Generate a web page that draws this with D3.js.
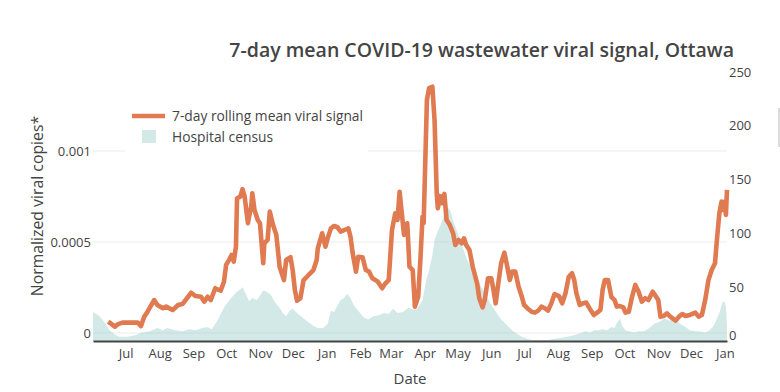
<!DOCTYPE html>
<html><head><meta charset="utf-8">
<script src="https://cdn.jsdelivr.net/npm/d3@7"></script>
<style>body{margin:0;background:#fff;overflow:hidden} svg{display:block;font-family:"Open Sans",sans-serif}</style>
</head><body><svg id="c" width="780" height="392"></svg>
<script>
const titleText = "7-day mean COVID-19 wastewater viral signal, Ottawa";
const seriesNames = ["7-day rolling mean viral signal", "Hospital census"];

const viralDates = ["2021-06-15","2021-06-21","2021-06-24","2021-06-28","2021-07-12","2021-07-15","2021-07-18","2021-07-21","2021-07-27","2021-07-30",
"2021-08-04","2021-08-07","2021-08-13","2021-08-18","2021-08-22","2021-08-30","2021-09-03","2021-09-08","2021-09-11","2021-09-14",
"2021-09-17","2021-09-21","2021-09-26","2021-09-29","2021-10-01","2021-10-04","2021-10-06","2021-10-08","2021-10-10","2021-10-11",
"2021-10-14","2021-10-16","2021-10-18","2021-10-21","2021-10-22","2021-10-24","2021-10-25","2021-10-27","2021-10-30","2021-11-01",
"2021-11-04","2021-11-05","2021-11-08","2021-11-10","2021-11-13","2021-11-16","2021-11-19","2021-11-22","2021-11-23","2021-11-25",
"2021-11-29","2021-12-01","2021-12-03","2021-12-05","2021-12-08","2021-12-11","2021-12-14","2021-12-17","2021-12-20","2021-12-23",
"2021-12-24","2021-12-28","2021-12-31","2022-01-02","2022-01-05","2022-01-08","2022-01-11","2022-01-14","2022-01-19","2022-01-21",
"2022-01-23","2022-01-25","2022-01-28","2022-01-30","2022-02-03","2022-02-06","2022-02-09","2022-02-12","2022-02-17","2022-02-21",
"2022-02-24","2022-02-27","2022-03-02","2022-03-05","2022-03-07","2022-03-09","2022-03-11","2022-03-13","2022-03-16","2022-03-18",
"2022-03-21","2022-03-23","2022-03-26","2022-03-28","2022-03-30","2022-03-31","2022-04-03","2022-04-05","2022-04-08","2022-04-10",
"2022-04-12","2022-04-13","2022-04-15","2022-04-17","2022-04-19","2022-04-21","2022-04-24","2022-04-27","2022-04-29","2022-05-02",
"2022-05-05","2022-05-07","2022-05-09","2022-05-12","2022-05-15","2022-05-19","2022-05-21","2022-05-24","2022-05-26","2022-05-29",
"2022-06-01","2022-06-03","2022-06-05","2022-06-07","2022-06-10","2022-06-13","2022-06-15","2022-06-18","2022-06-20","2022-06-23",
"2022-06-26","2022-06-29","2022-07-01","2022-07-04","2022-07-08","2022-07-11","2022-07-14","2022-07-17","2022-07-20","2022-07-23",
"2022-07-26","2022-07-29","2022-08-02","2022-08-05","2022-08-08","2022-08-11","2022-08-14","2022-08-16","2022-08-18","2022-08-21",
"2022-08-24","2022-08-27","2022-08-31","2022-09-03","2022-09-06","2022-09-09","2022-09-11","2022-09-13","2022-09-16","2022-09-19",
"2022-09-22","2022-09-24","2022-09-27","2022-09-30","2022-10-02","2022-10-05","2022-10-08","2022-10-11","2022-10-14","2022-10-17",
"2022-10-20","2022-10-23","2022-10-27","2022-10-29","2022-11-01","2022-11-03","2022-11-06","2022-11-09","2022-11-12","2022-11-17",
"2022-11-20","2022-11-23","2022-11-26","2022-11-30","2022-12-05","2022-12-08","2022-12-11","2022-12-14","2022-12-17","2022-12-20",
"2022-12-23","2022-12-25","2022-12-27","2022-12-29","2022-12-30","2023-01-01","2023-01-02","2023-01-03"];
const viralValues = [62e-6,35e-6,49e-6,57e-6,57e-6,38e-6,90e-6,117e-6,181e-6,154e-6,
136e-6,145e-6,126e-6,154e-6,159e-6,221e-6,203e-6,199e-6,172e-6,199e-6,
181e-6,246e-6,232e-6,282e-6,374e-6,405e-6,429e-6,392e-6,474e-6,740e-6,
749e-6,790e-6,749e-6,603e-6,639e-6,694e-6,768e-6,676e-6,621e-6,603e-6,
383e-6,493e-6,511e-6,667e-6,593e-6,539e-6,364e-6,309e-6,291e-6,401e-6,
416e-6,346e-6,236e-6,177e-6,191e-6,291e-6,309e-6,328e-6,346e-6,401e-6,
465e-6,548e-6,474e-6,520e-6,575e-6,588e-6,581e-6,557e-6,570e-6,575e-6,
529e-6,438e-6,337e-6,419e-6,416e-6,346e-6,337e-6,301e-6,282e-6,246e-6,
273e-6,291e-6,566e-6,658e-6,621e-6,776e-6,658e-6,539e-6,603e-6,364e-6,
346e-6,145e-6,199e-6,401e-6,639e-6,603e-6,1280e-6,1345e-6,1353e-6,1170e-6,
768e-6,685e-6,753e-6,713e-6,764e-6,621e-6,593e-6,548e-6,484e-6,511e-6,
493e-6,520e-6,484e-6,456e-6,364e-6,273e-6,191e-6,141e-6,181e-6,301e-6,
301e-6,236e-6,163e-6,254e-6,383e-6,441e-6,383e-6,291e-6,337e-6,337e-6,
254e-6,199e-6,154e-6,136e-6,117e-6,112e-6,123e-6,145e-6,136e-6,123e-6,
163e-6,214e-6,203e-6,163e-6,218e-6,309e-6,328e-6,291e-6,218e-6,154e-6,
163e-6,167e-6,126e-6,99e-6,112e-6,126e-6,236e-6,291e-6,291e-6,199e-6,
181e-6,145e-6,148e-6,141e-6,112e-6,117e-6,199e-6,264e-6,227e-6,172e-6,
191e-6,181e-6,227e-6,209e-6,181e-6,90e-6,93e-6,108e-6,90e-6,68e-6,
90e-6,104e-6,93e-6,99e-6,112e-6,90e-6,99e-6,181e-6,291e-6,346e-6,
383e-6,529e-6,658e-6,722e-6,676e-6,722e-6,649e-6,786e-6];

const hospitalDates = ["2021-06-01","2021-06-07","2021-06-12","2021-06-16","2021-06-21","2021-06-25","2021-07-02","2021-07-09","2021-07-16","2021-07-23",
"2021-07-30","2021-08-04","2021-08-08","2021-08-15","2021-08-22","2021-08-28","2021-09-03","2021-09-09","2021-09-14","2021-09-18",
"2021-09-23","2021-09-29","2021-10-04","2021-10-10","2021-10-14","2021-10-16","2021-10-19","2021-10-22","2021-10-25","2021-10-29",
"2021-11-01","2021-11-04","2021-11-07","2021-11-11","2021-11-14","2021-11-19","2021-11-22","2021-11-25","2021-11-28","2021-12-01",
"2021-12-05","2021-12-11","2021-12-15","2021-12-20","2021-12-24","2021-12-29","2022-01-02","2022-01-05","2022-01-08","2022-01-11",
"2022-01-14","2022-01-17","2022-01-20","2022-01-23","2022-01-26","2022-01-30","2022-02-04","2022-02-08","2022-02-13","2022-02-18",
"2022-02-23","2022-02-27","2022-03-03","2022-03-07","2022-03-12","2022-03-17","2022-03-22","2022-03-25","2022-03-30","2022-04-02",
"2022-04-05","2022-04-08","2022-04-10","2022-04-13","2022-04-16","2022-04-19","2022-04-21","2022-04-24","2022-04-27","2022-04-30",
"2022-05-04","2022-05-07","2022-05-10","2022-05-14","2022-05-18","2022-05-23","2022-05-28","2022-05-31","2022-06-04","2022-06-10",
"2022-06-15","2022-06-20","2022-06-24","2022-06-29","2022-07-04","2022-07-09","2022-07-16","2022-07-23","2022-07-29","2022-08-05",
"2022-08-09","2022-08-15","2022-08-21","2022-08-26","2022-08-31","2022-09-03","2022-09-07","2022-09-11","2022-09-15","2022-09-19",
"2022-09-22","2022-09-24","2022-09-27","2022-09-29","2022-10-02","2022-10-05","2022-10-10","2022-10-14","2022-10-19","2022-10-24",
"2022-10-28","2022-11-02","2022-11-07","2022-11-11","2022-11-16","2022-11-21","2022-11-26","2022-11-30","2022-12-05","2022-12-09",
"2022-12-14","2022-12-18","2022-12-21","2022-12-23","2022-12-27","2022-12-29","2022-12-30","2023-01-01","2023-01-02","2023-01-03"];
const hospitalValues = [27,23,17,10,6,4,4,5,8,9,
12,10,12,10,9,11,10,12,13,11,
19,31,38,45,48,50,44,37,40,38,
42,47,46,43,37,31,26,23,28,30,
26,21,18,14,12,12,16,28,27,33,
38,40,44,40,33,28,22,20,23,24,
26,25,30,26,27,31,29,30,38,55,
66,80,94,102,109,118,125,122,112,104,
91,84,75,68,60,50,41,35,29,20,
15,10,7,4,2,1,1,1,2,3,
4,5,7,9,8,10,10,11,10,13,
12,17,21,14,10,9,8,9,9,12,
16,18,21,19,20,16,13,10,9,9,
8,10,13,17,26,33,37,36,32,14];

const leftTicks = [0, 0.0005, 0.001];
const leftTickLabels = ["0", "0.0005", "0.001"];
const rightTicks = [0, 50, 100, 150, 200, 250];
const monthTicks = ["2021-07-01","2021-08-01","2021-09-01","2021-10-01","2021-11-01","2021-12-01","2022-01-01","2022-02-01","2022-03-01","2022-04-01",
"2022-05-01","2022-06-01","2022-07-01","2022-08-01","2022-09-01","2022-10-01","2022-11-01","2022-12-01","2023-01-01"];
const monthLabels = ["Jul","Aug","Sep","Oct","Nov","Dec","Jan","Feb","Mar","Apr","May","Jun","Jul","Aug","Sep","Oct","Nov","Dec","Jan"];

const parse = d3.utcParse("%Y-%m-%d");
const viral = viralDates.map((d, i) => ({date: parse(d), v: viralValues[i]}));
const hosp = hospitalDates.map((d, i) => ({date: parse(d), v: hospitalValues[i]}));

const L = 93, R = 727, T = 72, B = 341;
const ORANGE = "#e07a50", TEAL = "rgba(150,202,200,0.42)", INK = "#444";

const x = d3.scaleUtc().domain([parse("2021-06-01"), parse("2023-01-03")]).range([L, R]);
const yL = d3.scaleLinear().domain([-0.000044, 0.001434]).range([B, T]);
const yR = d3.scaleLinear().domain([0, 250]).range([B, T]);

const svg = d3.select("#c");

// gridlines (left axis)
svg.append("g").selectAll("line").data(leftTicks).join("line")
  .attr("x1", L).attr("x2", R)
  .attr("y1", d => yL(d)).attr("y2", d => yL(d))
  .attr("stroke", "#ececec").attr("stroke-width", 1);

// hospital area
svg.append("path").datum(hosp)
  .attr("fill", TEAL)
  .attr("d", d3.area().x(d => x(d.date)).y0(yR(0)).y1(d => yR(d.v)));

// viral line
svg.append("path").datum(viral)
  .attr("fill", "none").attr("stroke", ORANGE).attr("stroke-width", 4.6)
  .attr("stroke-linejoin", "round").attr("stroke-linecap", "butt")
  .attr("d", d3.line().x(d => x(d.date)).y(d => yL(d.v)));

// x axis
const xAxis = d3.axisBottom(x).tickValues(monthTicks.map(parse)).tickSize(0).tickPadding(8)
  .tickFormat((d, i) => monthLabels[i]);
const gx = svg.append("g").attr("transform", `translate(0,${B})`).call(xAxis);
gx.select(".domain").attr("stroke", INK).attr("stroke-width", 2);
gx.selectAll("text").attr("fill", INK).attr("font-size", 13).attr("font-family", "Open Sans").attr("text-anchor", "middle");

// left axis
const gl = svg.append("g").attr("transform", `translate(${L},0)`)
  .call(d3.axisLeft(yL).tickValues(leftTicks).tickSize(0).tickPadding(2).tickFormat((d, i) => leftTickLabels[i]));
gl.select(".domain").remove();
gl.selectAll("text").attr("fill", INK).attr("font-size", 13).attr("font-family", "Open Sans").attr("text-anchor", "end");

// right axis
const gr = svg.append("g").attr("transform", `translate(${R},0)`)
  .call(d3.axisRight(yR).tickValues(rightTicks).tickSize(0).tickPadding(2).tickFormat(d3.format("d")));
gr.select(".domain").remove();
gr.selectAll("text").attr("fill", INK).attr("font-size", 13).attr("font-family", "Open Sans").attr("text-anchor", "start")
  .attr("dy", d => d === 0 ? "-0.12em" : "0.32em");

// title
svg.append("text").attr("x", 734).attr("y", 57).attr("text-anchor", "end")
  .attr("fill", INK).attr("font-size", 19.5).attr("font-weight", 600).text(titleText);

// axis titles
svg.append("text").attr("transform", "translate(43,206) rotate(-90)").attr("text-anchor", "middle")
  .attr("fill", INK).attr("font-size", 15.8).text("Normalized viral copies*");
svg.append("text").attr("x", 410).attr("y", 384).attr("text-anchor", "middle")
  .attr("fill", INK).attr("font-size", 15).text("Date");

// legend
const lg = svg.append("g");
lg.append("rect").attr("x", 125).attr("y", 102).attr("width", 243).attr("height", 52).attr("fill", "#fff");
lg.append("line").attr("x1", 132).attr("x2", 165).attr("y1", 116).attr("y2", 116)
  .attr("stroke", ORANGE).attr("stroke-width", 4.6);
lg.append("text").attr("x", 172).attr("y", 121).attr("fill", INK).attr("font-size", 13.8).text(seriesNames[0]);
lg.append("rect").attr("x", 142).attr("y", 130).attr("width", 14).attr("height", 13).attr("fill", TEAL);
lg.append("text").attr("x", 172).attr("y", 142).attr("fill", INK).attr("font-size", 13.8).text(seriesNames[1]);

// faint edge mark at right
svg.append("line").attr("x1", 779).attr("x2", 779).attr("y1", 108).attr("y2", 147).attr("stroke", "#d0d0d0").attr("stroke-width", 1.5);
</script></body></html>
